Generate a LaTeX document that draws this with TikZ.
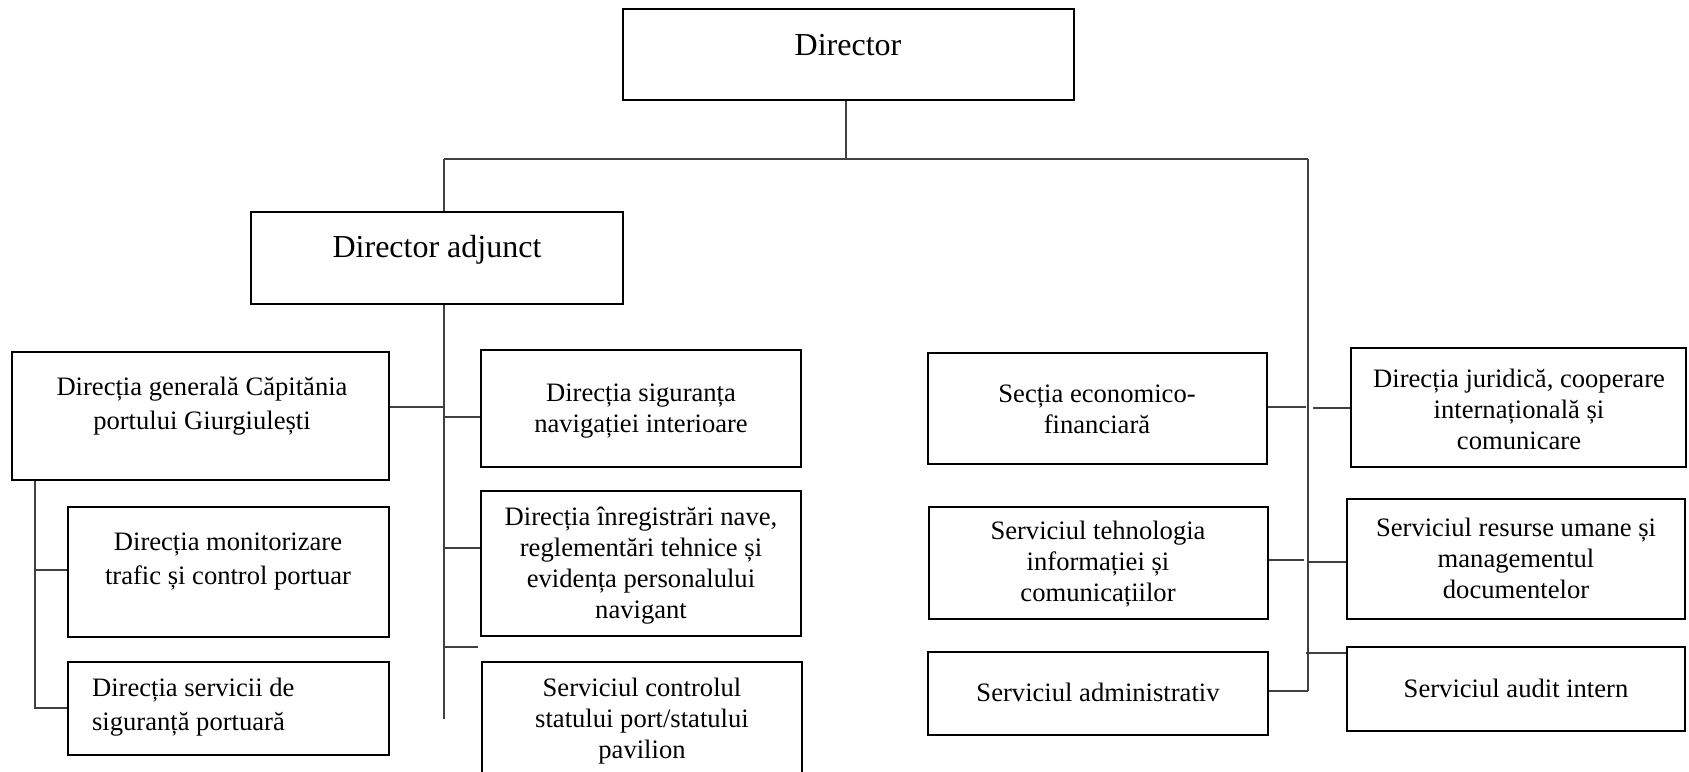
\documentclass[tikz,border=0pt]{standalone}
\usepackage{fontspec}
\setmainfont{Liberation Serif}
\usetikzlibrary{fit}

\begin{document}
\begin{tikzpicture}[x=0.5pt,y=-0.5pt,
	box/.style={draw, line width=1.4pt, inner sep=0pt, fit={#1}},
	txt/.style={align=center, font=\fontsize{13.3}{15.5}\selectfont},
	wide/.style={align=center, font=\fontsize{13.3}{17}\selectfont},
	big/.style={font=\fontsize{16}{19}\selectfont},
	link/.style={line width=0.7pt, draw=black!75}]

\useasboundingbox (0,0) rectangle (1689,771);

\node[box={(623,9) (1074,100)}] (dir) {};
\node[box={(251,212) (623,304)}] (adj) {};

\node[box={(12,352) (389,480)}] (dg) {};
\node[box={(68,507) (389,637)}] (dm) {};
\node[box={(68,662) (389,755)}] (dsp) {};

\node[box={(481,350) (801,467)}] (dsn) {};
\node[box={(481,491) (801,636)}] (dinr) {};
\node[box={(482,662) (802,800)}] (scp) {};

\node[box={(928,353) (1267,464)}] (sef) {};
\node[box={(929,507) (1268,619)}] (sti) {};
\node[box={(928,652) (1268,735)}] (sadm) {};

\node[box={(1351,348) (1686,467)}] (dj) {};
\node[box={(1347,499) (1685,619)}] (sru) {};
\node[box={(1347,647) (1685,731)}] (sai) {};

\node[big] (tdir) at (848,45) {Director};
\node[big] (tadj) at (437,250) {Director adjunct};

\node[wide] (tdg) at (202,406) {Direcția generală Căpitănia\\portului Giurgiulești};
\node[wide] (tdm) at (228,562) {Direcția monitorizare\\trafic și control portuar};
\node[wide, align=left, anchor=west] (tdsp) at (85,707) {Direcția servicii de\\siguranță portuară};

\node[txt] (tdsn) at (641,411) {Direcția siguranța\\navigației interioare};
\node[txt] (tdinr) at (641,566) {Direcția înregistrări nave,\\reglementări tehnice și\\evidența personalului\\navigant};
\node[txt] (tscp) at (642,721) {Serviciul controlul\\statului port/statului\\pavilion};

\node[txt] (tsef) at (1097,409) {Secția economico-\\financiară};
\node[txt] (tsti) at (1098,564) {Serviciul tehnologia\\informației și\\comunicațiilor};
\node[txt] (tsadm) at (1098,692) {Serviciul administrativ};

\node[txt] (tdj) at (1519,409) {Direcția juridică, cooperare\\internațională și\\comunicare};
\node[txt] (tsru) at (1516,558) {Serviciul resurse umane și\\managementul\\documentelor};
\node[txt] (tsai) at (1516,688) {Serviciul audit intern};

\coordinate (hub) at (846,159);
\coordinate (ltop) at (444,159);
\coordinate (rtop) at (1308,159);
\coordinate (lend) at (444,719);
\coordinate (rend) at (1308,691);

\draw[link] (dir.south -| hub) -- (hub);
\draw[link] (ltop) -- (rtop);
\draw[link] (ltop) -- (ltop |- adj.north);
\draw[link] (adj.south -| lend) -- (lend);
\draw[link] (rtop) -- (rend);

\coordinate (m1) at (444,407);
\coordinate (m2) at (444,417);
\coordinate (m3) at (444,548);
\coordinate (m4) at (444,647);
\coordinate (m4e) at (478,647);
\draw[link] (dg.east |- m1) -- (m1);
\draw[link] (m2) -- (m2 -| dsn.west);
\draw[link] (m3) -- (m3 -| dinr.west);
\draw[link] (m4) -- (m4e);

\coordinate (g1) at (35,570);
\coordinate (g2) at (35,708);
\draw[link] (dg.south -| g2) -- (g2) -- (g2 -| dsp.west);
\draw[link] (g1) -- (g1 -| dm.west);

\coordinate (r1) at (1306,407);
\coordinate (r1b) at (1313,408);
\coordinate (r2) at (1304,560);
\coordinate (r2b) at (1309,562);
\coordinate (r3) at (1306,653);
\draw[link] (sef.east |- r1) -- (r1);
\draw[link] (r1b) -- (r1b -| dj.west);
\draw[link] (sti.east |- r2) -- (r2);
\draw[link] (r2b) -- (r2b -| sru.west);
\draw[link] (sadm.east |- rend) -- (rend);
\draw[link] (r3) -- (r3 -| sai.west);

\end{tikzpicture}
\end{document}
